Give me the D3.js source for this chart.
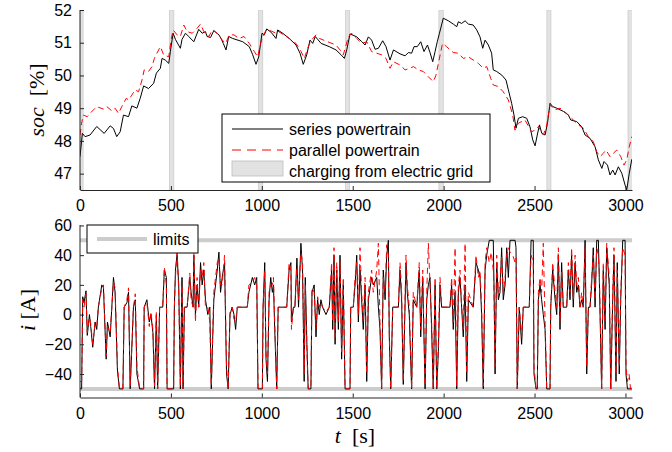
<!DOCTYPE html>
<html>
<head>
<meta charset="utf-8">
<script src="https://cdn.jsdelivr.net/npm/d3@7"></script>
<style>
  html, body { margin: 0; padding: 0; background: #fff; }
  svg { display: block; }
  .tick text { font-family: "Liberation Sans", Arial, sans-serif; font-size: 16px; fill: #000; }
</style>
</head>
<body>
<svg id="chart" width="672" height="452"></svg>
<script>
// ---- state of charge [%] for both powertrains, sampled as [t, soc] ----
const socSeries = [
  [0,47.52],[13,48.23],[28,48.13],[55,48.18],[92,48.44],[133,48.23],[166,48.46],[184,48.38],
  [202,48.13],[221,48.28],[239,48.79],[267,48.74],[285,49.07],[313,49.0],[331,49.3],[350,49.68],
  [377,49.6],[405,49.76],[420,50.07],[442,50.22],[451,50.52],[469,50.47],[488,50.37],[497,50.73],
  [512,51.29],[525,51.1],[552,50.83],[561,51.1],[580,51.29],[598,51.19],[626,51.03],[653,51.41],
  [672,51.29],[690,51.34],[699,51.19],[718,51.16],[736,51.37],[764,51.24],[776,51.13],[788,50.98],
  [803,50.78],[818,51.19],[840,51.13],[895,51.03],[931,50.88],[950,50.63],[968,50.34],[983,50.57],
  [1001,51.29],[1014,51.24],[1027,51.42],[1051,51.32],[1078,51.13],[1087,51.39],[1115,51.29],
  [1151,51.13],[1188,50.93],[1210,50.68],[1228,50.34],[1247,50.63],[1265,51.08],[1280,50.98],
  [1294,51.19],[1326,50.98],[1371,50.88],[1408,50.78],[1436,50.63],[1454,50.52],[1467,50.78],
  [1485,51.27],[1522,51.18],[1550,51.03],[1568,50.93],[1586,51.18],[1604,51.08],[1623,50.8],
  [1641,50.83],[1665,51.06],[1683,50.88],[1705,50.47],[1724,50.78],[1760,50.66],[1788,50.6],
  [1806,50.7],[1824,50.68],[1837,50.88],[1855,50.88],[1874,51.03],[1892,50.73],[1911,50.93],
  [1925,50.7],[1940,50.42],[1953,50.73],[1965,51.03],[1977,51.29],[1998,51.75],[2026,51.67],
  [2053,51.57],[2072,51.49],[2081,51.64],[2099,51.59],[2118,51.67],[2136,51.57],[2163,51.54],
  [2182,51.39],[2200,51.18],[2215,50.83],[2228,51.08],[2246,50.93],[2264,50.68],[2273,50.17],
  [2292,50.12],[2320,50.01],[2343,49.86],[2356,49.56],[2374,49.15],[2387,48.79],[2398,48.39],
  [2411,48.69],[2435,48.74],[2457,48.69],[2475,48.43],[2490,48.03],[2503,47.85],[2515,48.18],
  [2527,48.49],[2540,48.23],[2558,48.18],[2571,48.54],[2585,49.15],[2600,49.05],[2622,49.0],
  [2659,48.9],[2686,48.79],[2699,48.64],[2732,48.59],[2760,48.43],[2778,48.18],[2805,48.08],
  [2833,47.82],[2851,47.42],[2870,47.16],[2882,47.37],[2901,47.26],[2915,46.96],[2930,47.11],
  [2943,46.96],[2961,47.21],[2980,47.01],[2998,46.65],[3007,46.5],[3021,47.01],[3035,47.44]
];

const socParallel = [
  [0,48.18],[9,48.54],[18,48.79],[40,48.74],[55,48.84],[92,49.05],[129,48.97],[147,49.05],
  [175,48.92],[193,49.0],[212,48.84],[230,49.05],[254,49.3],[267,49.25],[285,49.4],[304,49.56],
  [322,49.5],[341,49.86],[353,50.17],[377,50.12],[396,50.27],[409,50.52],[423,50.68],[442,50.88],
  [460,50.63],[488,50.57],[501,51.08],[512,51.39],[534,51.24],[552,51.19],[571,51.54],[589,51.34],
  [617,51.29],[644,51.44],[663,51.57],[681,51.34],[709,51.19],[727,51.39],[755,51.29],[782,51.08],
  [801,50.98],[821,51.24],[847,51.24],[874,51.13],[902,51.19],[931,50.98],[959,50.73],[977,50.57],
  [996,51.03],[1023,51.39],[1051,51.36],[1078,51.29],[1087,51.36],[1151,51.13],[1188,50.98],
  [1216,50.73],[1234,50.52],[1252,50.83],[1270,51.06],[1298,51.24],[1317,51.13],[1371,51.01],
  [1408,50.93],[1430,50.78],[1448,50.63],[1476,51.18],[1494,51.29],[1522,51.13],[1550,50.98],
  [1577,51.03],[1604,50.73],[1632,50.68],[1659,50.63],[1683,50.52],[1705,50.22],[1724,50.42],
  [1760,50.32],[1788,50.17],[1815,50.22],[1834,50.27],[1861,50.17],[1888,50.12],[1916,49.96],
  [1943,49.81],[1958,50.01],[1971,50.37],[1994,50.98],[2016,50.88],[2053,50.7],[2081,50.68],
  [2108,50.52],[2136,50.57],[2163,50.47],[2191,50.37],[2218,50.22],[2237,50.27],[2259,49.91],
  [2273,49.71],[2301,49.66],[2328,49.5],[2356,49.25],[2380,48.79],[2392,48.33],[2411,48.54],
  [2447,48.64],[2484,48.28],[2503,48.33],[2521,48.44],[2549,48.18],[2567,48.49],[2585,49.1],
  [2613,48.95],[2640,49.0],[2677,48.84],[2704,48.69],[2741,48.49],[2768,48.39],[2796,48.13],
  [2823,47.98],[2842,47.67],[2860,47.52],[2878,47.62],[2893,47.72],[2915,47.52],[2933,47.62],
  [2952,47.72],[2974,47.52],[2992,47.26],[3007,47.42],[3021,47.82],[3035,48.13]
];

// intervals spent plugged into the grid [start, end] in s
const chargingIntervals = [[0,17],[492,516],[981,1005],[1461,1483],[1974,1998],[2568,2590],[3014,3040]];

// ---- battery current [A], sampled as [t, i] ----
const currentSeries = [
  [0,-50],[9,-50],[15,12],[22,8],[33,16],[40,-14],[52,0],[59,-8],[70,-22],[83,-5],[92,-10],[101,5],
  [120,20],[129,18],[144,-30],[151,-5],[166,-15],[175,5],[184,25],[193,15],[206,-38],[217,-50],
  [236,-50],[243,5],[258,8],[267,15],[276,-50],[294,5],[304,10],[313,-40],[328,-50],[350,-50],
  [353,5],[368,10],[381,-5],[390,0],[401,-12],[410,-50],[420,0],[427,-50],[438,5],[455,5],[464,30],
  [475,25],[479,-50],[515,-50],[519,5],[525,30],[534,40],[543,20],[552,-50],[561,25],[567,-50],
  [574,5],[589,5],[604,25],[611,15],[622,5],[626,40],[635,0],[644,20],[653,5],[663,35],[672,20],
  [681,30],[690,10],[703,0],[714,5],[722,-50],[736,10],[755,30],[764,42],[773,15],[782,25],[795,35],
  [806,-40],[815,-50],[825,0],[837,5],[847,0],[856,-10],[865,5],[920,5],[929,15],[948,25],[961,20],
  [972,25],[979,-50],[1003,-50],[1007,5],[1016,35],[1023,-30],[1031,-45],[1040,10],[1049,25],
  [1058,15],[1064,20],[1071,-10],[1082,-50],[1090,5],[1137,5],[1150,30],[1160,35],[1163,-5],
  [1174,5],[1182,5],[1193,38],[1202,5],[1215,48],[1224,30],[1233,-45],[1239,25],[1248,-20],
  [1255,-50],[1270,-50],[1276,15],[1288,20],[1298,-15],[1307,10],[1316,0],[1325,10],[1334,5],
  [1353,0],[1371,5],[1384,30],[1390,-10],[1397,40],[1403,-20],[1412,30],[1421,-10],[1430,40],
  [1439,-30],[1448,20],[1458,-50],[1485,-50],[1489,5],[1503,5],[1513,20],[1522,40],[1531,-5],
  [1540,30],[1549,10],[1558,-10],[1568,20],[1577,-45],[1586,10],[1604,25],[1613,20],[1632,25],
  [1641,5],[1650,-10],[1659,-50],[1668,30],[1678,10],[1687,40],[1696,50],[1701,-15],[1709,-50],
  [1720,5],[1751,5],[1760,30],[1769,10],[1778,-47],[1793,35],[1800,15],[1811,0],[1824,-50],
  [1833,10],[1852,5],[1866,30],[1874,-15],[1885,25],[1898,-50],[1907,10],[1916,20],[1925,25],
  [1934,-10],[1943,-50],[1953,20],[1962,-50],[1971,-25],[1980,20],[1989,5],[2035,5],[2044,20],
  [2053,-10],[2063,15],[2072,-50],[2081,15],[2090,25],[2099,5],[2108,-15],[2118,20],[2127,-45],
  [2136,10],[2163,5],[2178,35],[2191,30],[2200,25],[2209,0],[2218,-50],[2228,30],[2237,40],
  [2251,50],[2273,50],[2277,20],[2283,-40],[2292,35],[2301,10],[2310,15],[2319,45],[2328,10],
  [2338,20],[2347,45],[2356,25],[2365,50],[2393,50],[2398,45],[2405,-50],[2416,5],[2429,-20],
  [2438,5],[2471,5],[2481,50],[2493,50],[2497,-40],[2508,-50],[2515,-50],[2521,10],[2530,20],
  [2539,10],[2548,0],[2558,-10],[2567,-50],[2585,-50],[2589,5],[2600,30],[2613,10],[2622,0],
  [2631,40],[2640,-10],[2649,35],[2658,5],[2677,5],[2686,30],[2695,10],[2704,40],[2713,5],
  [2723,35],[2732,15],[2741,20],[2750,5],[2759,10],[2768,5],[2778,50],[2787,-40],[2796,5],
  [2805,5],[2814,20],[2823,45],[2833,5],[2842,50],[2851,50],[2856,25],[2869,-50],[2878,30],
  [2888,-10],[2897,45],[2911,20],[2919,-50],[2930,10],[2937,40],[2948,-45],[2955,35],[2966,-40],
  [2974,10],[2985,50],[2998,50],[3003,-40],[3011,-50],[3035,-50]
];

const currentParallel = [
  [0,-45],[9,-45],[15,10],[22,5],[33,14],[40,-12],[52,-2],[59,-6],[70,-20],[83,-6],[92,-8],[101,5],
  [120,18],[129,20],[144,-28],[151,-8],[166,-12],[175,5],[184,22],[193,18],[206,-35],[217,-50],
  [236,-50],[243,5],[258,10],[267,18],[276,-48],[294,5],[304,14],[313,-35],[328,-50],[350,-50],
  [353,5],[368,8],[381,-8],[390,2],[401,-10],[410,-48],[420,2],[427,-50],[438,5],[455,5],[464,32],
  [475,20],[479,-50],[515,-50],[519,5],[525,25],[534,45],[543,15],[552,-48],[561,20],[567,-50],
  [574,5],[589,5],[604,28],[611,10],[622,5],[626,45],[635,-5],[644,25],[653,5],[663,30],[672,25],
  [681,35],[690,5],[703,5],[714,-5],[722,-48],[736,15],[755,35],[764,38],[773,20],[782,20],[795,40],
  [806,-35],[815,-50],[825,2],[837,5],[847,-3],[856,-5],[865,5],[920,5],[929,20],[948,22],[961,25],
  [972,20],[979,-50],[1003,-50],[1007,5],[1016,30],[1023,-25],[1031,-40],[1040,15],[1049,20],
  [1058,20],[1064,25],[1071,-5],[1082,-50],[1090,5],[1137,5],[1150,35],[1160,30],[1163,-10],
  [1174,5],[1182,5],[1193,32],[1202,10],[1215,42],[1224,35],[1233,-40],[1239,20],[1248,-25],
  [1255,-50],[1270,-50],[1276,18],[1288,15],[1298,-10],[1307,12],[1316,5],[1325,8],[1334,5],
  [1353,2],[1371,5],[1384,35],[1390,-5],[1397,45],[1403,-15],[1412,35],[1421,-5],[1430,35],
  [1439,-25],[1448,25],[1458,-50],[1485,-50],[1489,5],[1503,5],[1513,25],[1522,35],[1531,0],
  [1540,45],[1549,15],[1558,-5],[1568,25],[1577,-40],[1586,15],[1604,30],[1613,15],[1632,30],
  [1641,48],[1650,-5],[1659,-50],[1668,25],[1678,15],[1687,47],[1696,40],[1701,-10],[1709,-50],
  [1720,5],[1751,5],[1760,35],[1769,15],[1778,-45],[1793,40],[1800,20],[1811,5],[1824,-50],
  [1833,15],[1852,5],[1866,35],[1874,-10],[1885,30],[1898,-48],[1907,15],[1916,48],[1925,20],
  [1934,-5],[1943,-50],[1953,25],[1962,-50],[1971,-20],[1980,25],[1989,5],[2035,5],[2044,25],
  [2053,-5],[2063,45],[2072,-48],[2081,20],[2090,30],[2099,5],[2108,-10],[2118,48],[2127,-40],
  [2136,15],[2163,5],[2178,40],[2191,25],[2200,30],[2209,5],[2218,-48],[2228,35],[2237,45],
  [2251,35],[2262,42],[2273,30],[2277,15],[2283,-35],[2292,40],[2301,15],[2310,20],[2319,40],
  [2328,15],[2338,25],[2347,40],[2356,45],[2365,42],[2380,40],[2393,35],[2398,38],[2405,-50],
  [2416,5],[2429,-15],[2438,5],[2471,5],[2481,40],[2493,35],[2497,-35],[2508,-50],[2515,-50],
  [2521,15],[2530,25],[2539,15],[2548,48],[2558,-5],[2567,-50],[2585,-50],[2589,5],[2600,35],
  [2613,15],[2622,5],[2631,45],[2640,-5],[2649,30],[2658,5],[2677,5],[2686,35],[2695,15],
  [2704,45],[2713,10],[2723,40],[2732,20],[2741,25],[2750,5],[2759,15],[2768,5],[2778,45],
  [2787,-35],[2796,5],[2805,5],[2814,25],[2823,40],[2833,10],[2842,45],[2851,40],[2856,30],
  [2869,-50],[2878,35],[2888,-5],[2897,48],[2911,25],[2919,-50],[2930,15],[2937,45],[2948,-40],
  [2955,30],[2966,-35],[2974,15],[2985,45],[2998,40],[3003,-35],[3011,-45],[3020,-40],[3028,-50],
  [3035,-50]
];

const currentLimits = [-50, 50];

const timeTicks = [0, 500, 1000, 1500, 2000, 2500, 3000];
const socTicks = [47, 48, 49, 50, 51, 52];
const currentTicks = [-40, -20, 0, 20, 40, 60];

const legendTopLabels = ["series powertrain", "parallel powertrain", "charging from electric grid"];
const legendBottomLabel = "limits";

// ---- layout ----
const svg = d3.select("#chart");
const left = 80, right = 632;
const top1 = 10, bottom1 = 190;
const top2 = 225, bottom2 = 397.5;

const x = d3.scaleLinear().domain([0, 3036]).range([left, right]);
const ySoc = d3.scaleLinear().domain([46.5, 52]).range([bottom1, top1]);
const yCur = d3.scaleLinear().domain([-55.8, 60.3]).range([bottom2, top2]);

const fmtPlain = d => String(d);
const fmtMinus = d => (d < 0 ? "\u2212" + Math.abs(d) : String(d));

svg.append("defs").call(defs => {
  defs.append("clipPath").attr("id", "clipTop")
    .append("rect").attr("x", left).attr("y", top1).attr("width", right - left).attr("height", bottom1 - top1);
  defs.append("clipPath").attr("id", "clipBottom")
    .append("rect").attr("x", left).attr("y", top2 - 2).attr("width", right - left + 1).attr("height", bottom2 - top2 + 2);
});

const line = (ys) => d3.line().x(d => x(d[0])).y(d => ys(d[1]));

// ---- top panel: state of charge ----
const gTop = svg.append("g").attr("clip-path", "url(#clipTop)");

gTop.selectAll("rect.charge").data(chargingIntervals).join("rect")
  .attr("class", "charge")
  .attr("x", d => x(d[0])).attr("width", d => x(d[1]) - x(d[0]))
  .attr("y", top1).attr("height", bottom1 - top1)
  .attr("fill", "#e2e2e2").attr("stroke", "#cdcdcd").attr("stroke-width", 0.8);

gTop.append("path").datum(socSeries)
  .attr("d", line(ySoc)).attr("fill", "none").attr("stroke", "#000").attr("stroke-width", 1);
gTop.append("path").datum(socParallel)
  .attr("d", line(ySoc)).attr("fill", "none").attr("stroke", "#ff0000").attr("stroke-width", 1)
  .attr("stroke-dasharray", "6,4");

const axisStyle = g => {
  g.select(".domain").attr("stroke", "#262626").attr("stroke-width", 1);
  g.selectAll(".tick line").attr("stroke", "#262626");
};

svg.append("g").attr("transform", `translate(0,${bottom1})`)
  .call(d3.axisBottom(x).tickValues(timeTicks).tickFormat(fmtPlain).tickSizeInner(-4).tickSizeOuter(0).tickPadding(10))
  .call(axisStyle)
  .call(g => g.selectAll(".tick text").attr("dy", "0.71em"));

svg.append("g").attr("transform", `translate(${left},0)`)
  .call(d3.axisLeft(ySoc).tickValues(socTicks).tickFormat(fmtPlain).tickSizeInner(-4).tickSizeOuter(0).tickPadding(8))
  .call(axisStyle)
  .call(g => g.select(".domain").attr("d", `M0,${bottom1}V${top1}`));

// top legend
const lg1 = svg.append("g").attr("transform", "translate(222,114)");
lg1.append("rect").attr("width", 268).attr("height", 68).attr("fill", "#fff").attr("stroke", "#000").attr("stroke-width", 1);
lg1.append("line").attr("x1", 10).attr("x2", 61).attr("y1", 15).attr("y2", 15).attr("stroke", "#000").attr("stroke-width", 1);
lg1.append("line").attr("x1", 10).attr("x2", 61).attr("y1", 36).attr("y2", 36).attr("stroke", "#ff0000")
  .attr("stroke-width", 1).attr("stroke-dasharray", "9,6");
lg1.append("rect").attr("x", 10).attr("y", 47).attr("width", 51).attr("height", 15)
  .attr("fill", "#e2e2e2").attr("stroke", "#bdbdbd").attr("stroke-width", 0.8);
lg1.selectAll("text").data(legendTopLabels).join("text")
  .attr("x", 67).attr("y", (d, i) => 15 + i * 21).attr("dy", "0.35em")
  .attr("font-family", "Liberation Sans, Arial, sans-serif").attr("font-size", 16).text(d => d);

// ---- bottom panel: battery current ----
const gBot = svg.append("g").attr("clip-path", "url(#clipBottom)");

gBot.selectAll("line.limit").data(currentLimits).join("line")
  .attr("class", "limit")
  .attr("x1", left).attr("x2", right).attr("y1", d => yCur(d)).attr("y2", d => yCur(d))
  .attr("stroke", "#cccccc").attr("stroke-width", 4);

gBot.append("path").datum(currentSeries)
  .attr("d", line(yCur)).attr("fill", "none").attr("stroke", "#000").attr("stroke-width", 1);
gBot.append("path").datum(currentParallel)
  .attr("d", line(yCur)).attr("fill", "none").attr("stroke", "#ff0000").attr("stroke-width", 1)
  .attr("stroke-dasharray", "6,4");

svg.append("g").attr("transform", `translate(0,${bottom2})`)
  .call(d3.axisBottom(x).tickValues(timeTicks).tickFormat(fmtPlain).tickSizeInner(-4).tickSizeOuter(0).tickPadding(10))
  .call(axisStyle)
  .call(g => g.selectAll(".tick text").attr("dy", "0.71em"));

svg.append("g").attr("transform", `translate(${left},0)`)
  .call(d3.axisLeft(yCur).tickValues(currentTicks).tickFormat(fmtMinus).tickSizeInner(-4).tickSizeOuter(0).tickPadding(8))
  .call(axisStyle)
  .call(g => g.select(".domain").attr("d", `M0,${bottom2}V${top2}`));

// bottom legend
const lg2 = svg.append("g").attr("transform", "translate(87,225)");
lg2.append("rect").attr("width", 111).attr("height", 28).attr("fill", "#fff").attr("stroke", "#000").attr("stroke-width", 1);
lg2.append("line").attr("x1", 10).attr("x2", 60).attr("y1", 14).attr("y2", 14).attr("stroke", "#cccccc").attr("stroke-width", 4);
lg2.append("text").attr("x", 66).attr("y", 14).attr("dy", "0.35em")
  .attr("font-family", "Liberation Sans, Arial, sans-serif").attr("font-size", 16).text(legendBottomLabel);

// ---- axis titles ----
const serif = "Liberation Serif, 'Times New Roman', serif";
const socTitle = svg.append("text").attr("transform", "translate(44,100) rotate(-90)")
  .attr("text-anchor", "middle").attr("font-family", serif).attr("font-size", 22);
socTitle.append("tspan").attr("font-style", "italic").text("soc");
socTitle.append("tspan").text("\u2002[%]");

const iTitle = svg.append("text").attr("transform", "translate(35,310) rotate(-90)")
  .attr("text-anchor", "middle").attr("font-family", serif).attr("font-size", 22);
iTitle.append("tspan").attr("font-style", "italic").text("i");
iTitle.append("tspan").text(" [A]");

const tTitle = svg.append("text").attr("x", 355).attr("y", 443)
  .attr("text-anchor", "middle").attr("font-family", serif).attr("font-size", 22);
tTitle.append("tspan").attr("font-style", "italic").text("t");
tTitle.append("tspan").text("\u2002[s]");
</script>
</body>
</html>
